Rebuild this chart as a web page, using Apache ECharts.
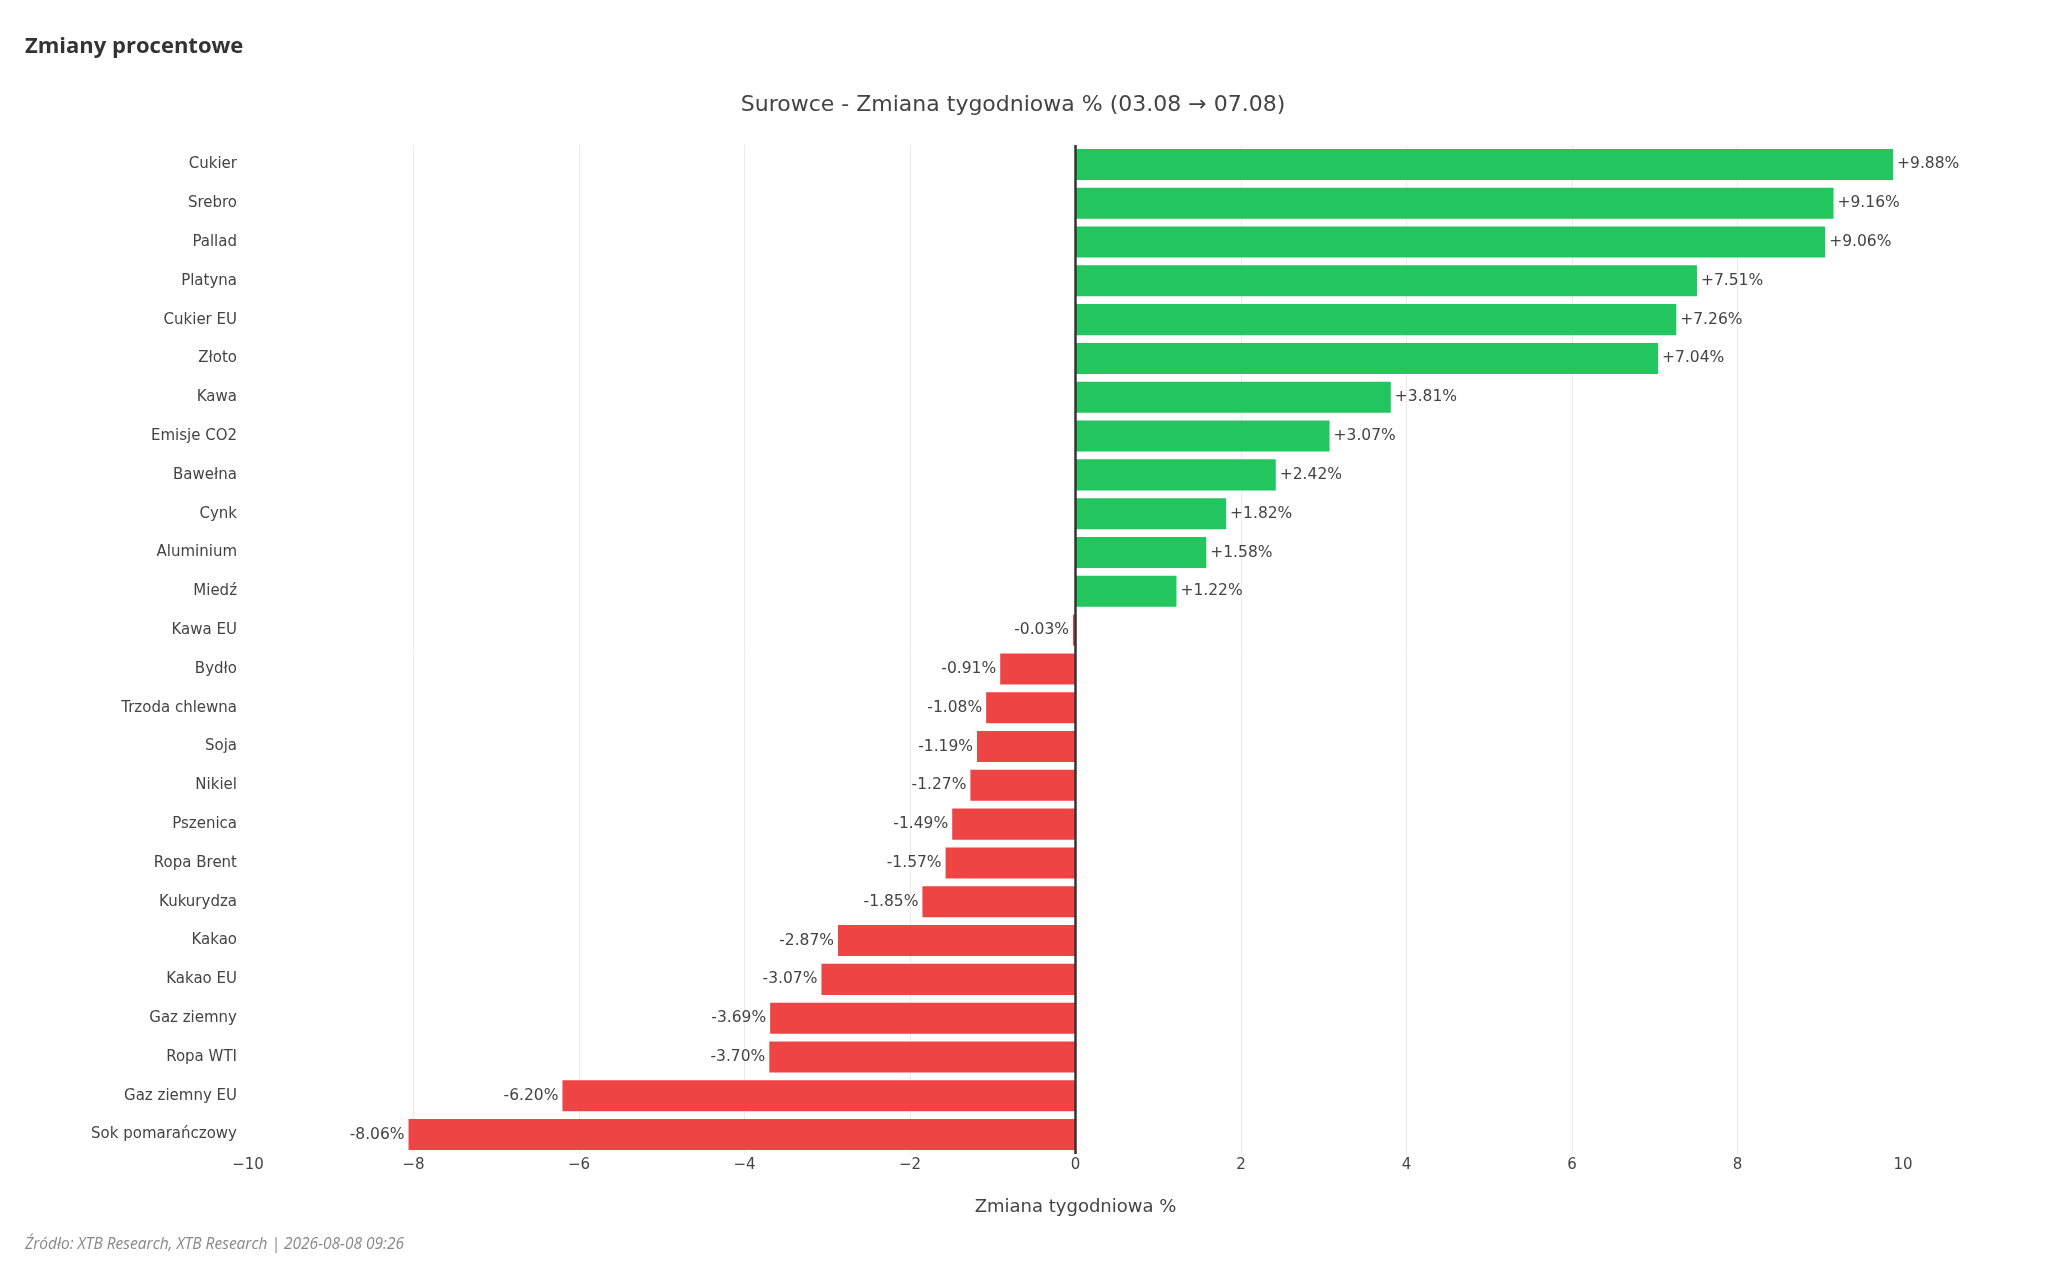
<!DOCTYPE html>
<html>
<head>
<meta charset="utf-8">
<script src="https://cdn.jsdelivr.net/npm/echarts@6/dist/echarts.min.js"></script>
<style>
html,body{margin:0;padding:0;background:#fff;}
#chart{width:2048px;height:1279px;}
</style>
</head>
<body>
<div id="chart"></div>
<script>
const categories = ["Cukier","Srebro","Pallad","Platyna","Cukier EU","Złoto","Kawa","Emisje CO2","Bawełna","Cynk","Aluminium","Miedź","Kawa EU","Bydło","Trzoda chlewna","Soja","Nikiel","Pszenica","Ropa Brent","Kukurydza","Kakao","Kakao EU","Gaz ziemny","Ropa WTI","Gaz ziemny EU","Sok pomarańczowy"];
const values = [9.88,9.16,9.06,7.51,7.26,7.04,3.81,3.07,2.42,1.82,1.58,1.22,-0.03,-0.91,-1.08,-1.19,-1.27,-1.49,-1.57,-1.85,-2.87,-3.07,-3.69,-3.70,-6.20,-8.06];
const xTicks = [-10,-8,-6,-4,-2,0,2,4,6,8,10];

const headerText = "Zmiany procentowe";
const chartTitle = "Surowce - Zmiana tygodniowa % (03.08 \u2192 07.08)";
const axisTitle = "Zmiana tygodniowa %";
const sourceText = "Źródło: XTB Research, XTB Research | 2026-08-08 09:26";

const POS = '#22c55e', NEG = '#ef4444';
const F = 'DejaVu Sans';

const chart = echarts.init(document.getElementById('chart'));
const data = values.map(v => ({
  value: v,
  itemStyle: {color: v >= 0 ? POS : NEG},
  label: {position: v >= 0 ? 'right' : 'left'}
}));

chart.setOption({
  animation: false,
  backgroundColor: '#fff',
  graphic: [
    {type:'text', left: 25, top: 36, style:{text: headerText, font: 'bold 22px "Open Sans"', fill:'#333'}},
    {type:'text', x: 1013, y: 105, style:{text: chartTitle, font: '22px "DejaVu Sans"', fill:'#444', textAlign:'center', textVerticalAlign:'middle'}},
    {type:'text', left: 25, top: 1237, style:{text: sourceText, font: 'italic 15.5px "Open Sans"', fill:'#888'}}
  ],
  grid: {left: 248, right: 145, top: 145, bottom: 125, containLabel: false},
  xAxis: {
    type: 'value', min: xTicks[0], max: xTicks[xTicks.length-1], interval: 2,
    name: axisTitle, nameLocation: 'middle', nameGap: 44,
    nameTextStyle: {fontFamily: F, fontSize: 18, color: '#444'},
    axisLine: {show: false}, axisTick: {show: false},
    axisLabel: {margin: 4, fontFamily: F, fontSize: 15, color: '#444',
      formatter: v => String(v).replace('-', '\u2212')},
    splitLine: {show: true, showMinLine: false, showMaxLine: false, lineStyle: {color: '#ebebeb', width: 1}}
  },
  yAxis: {
    type: 'category', data: categories, inverse: true,
    axisLine: {show: false}, axisTick: {show: false},
    axisLabel: {margin: 11, fontFamily: F, fontSize: 15, color: '#444'},
    splitLine: {show: false}
  },
  series: [{
    type: 'bar', data: data, barCategoryGap: '20%',
    label: {show: true, distance: 4, fontFamily: F, fontSize: 15.5, color: '#444',
      formatter: p => (p.value > 0 ? '+' : '') + p.value.toFixed(2) + '%'},
    markLine: {silent: true, symbol: 'none', label: {show: false},
      lineStyle: {color: '#333', width: 2.5, type: 'solid'},
      data: [{xAxis: 0}]}
  }]
});
</script>
</body>
</html>
